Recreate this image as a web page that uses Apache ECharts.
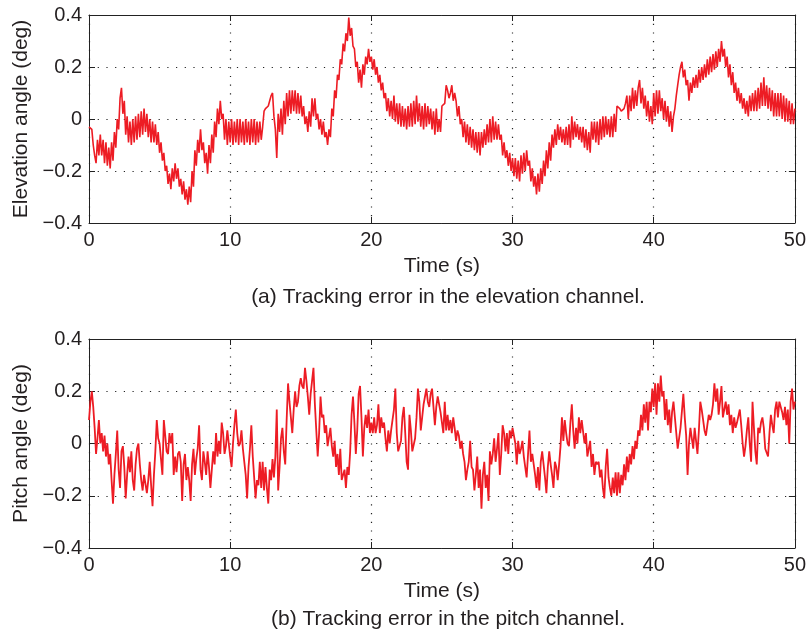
<!DOCTYPE html>
<html>
<head>
<meta charset="utf-8">
<script src="https://cdn.jsdelivr.net/npm/echarts@6/dist/echarts.min.js"></script>
<style>
html, body { margin: 0; padding: 0; background: #fff; }
#chart { width: 809px; height: 635px; }
</style>
</head>
<body>
<div id="chart"></div>
<script>
// sample spacing (s)
var STEP = 0.1;

// (a) elevation tracking error, in 0.01 deg, one row per second
var elevation = [
  -3, -3, -4, -10, -14, -17, -8, -14, -6, -14,
  -8, -17, -9, -18, -11, -19, -9, -16, -5, -11,
  0, -4, 8, 12, 2, 7, -6, 1, -9, -1,
  -10, 0, -9, 1, -8, 2, -7, 3, -6, 4,
  -5, 2, -7, 0, -9, -1, -9, -2, -10, -5,
  -13, -9, -16, -13, -20, -18, -25, -21, -27, -19,
  -24, -17, -23, -19, -26, -23, -29, -24, -31, -27,
  -33, -26, -32, -20, -26, -12, -18, -8, -13, -4,
  -12, -9, -17, -13, -21, -10, -17, -6, -13, -1,
  -7, 4, -2, 7, 0, 2, -8, 0, -10, -1,
  -9, 0, -10, -1, -9, 0, -10, 0, -9, -1,
  -10, 0, -9, -1, -10, 0, -9, 0, -10, -1,
  -9, -1, -8, -3, 3, 4, 4, 5, 7, 9,
  10, 1, -4, -15, 2, -5, 4, -6, 7, -2,
  10, 1, 11, 2, 11, 3, 11, 2, 10, 2,
  9, 1, 5, -2, 1, -5, 3, -3, 8, 1,
  8, 0, 2, -4, 0, -6, -1, -7, -5, -10,
  -4, -7, 4, 1, 11, 8, 17, 15, 23, 21,
  29, 26, 33, 30, 39, 32, 35, 28, 27, 20,
  22, 14, 19, 12, 21, 17, 24, 21, 27, 22,
  24, 19, 23, 17, 20, 14, 17, 11, 14, 8,
  10, 3, 8, 1, 7, 0, 9, -1, 6, -2,
  6, -3, 5, -3, 4, -4, 5, -3, 6, -3,
  7, -2, 9, -1, 6, -3, 5, -4, 6, -3,
  5, -2, 4, -4, 3, -6, 4, -5, 0, -5,
  5, 5, 6, 13, 11, 8, 10, 13, 7, 10,
  7, 1, 5, -2, 0, -7, -1, -9, -2, -10,
  -3, -11, -4, -12, -5, -13, -5, -14, -5, -11,
  -4, -10, -2, -9, 0, -9, 1, -8, -1, -8,
  -2, -8, -6, -14, -9, -15, -12, -18, -13, -20,
  -15, -22, -15, -23, -16, -24, -14, -21, -13, -20,
  -12, -18, -16, -24, -19, -26, -22, -29, -21, -28,
  -19, -25, -16, -22, -12, -19, -9, -16, -6, -11,
  -4, -10, -2, -8, -3, -9, -4, -10, -3, -10,
  -2, -11, 1, -8, -1, -7, -2, -8, -3, -9,
  -3, -11, -4, -12, -5, -13, -1, -8, -1, -9,
  -1, -10, 0, -8, 1, -7, 1, -6, 0, -7,
  1, -7, 2, -5, 5, 5, 4, 3, 3, 4,
  6, 9, 0, 9, 3, 12, 4, 11, 5, 12,
  15, 6, 12, 4, 9, 1, 7, -1, 5, -2,
  10, 1, 11, 2, 11, 3, 8, 0, 7, -1,
  5, -3, 3, -5, 1, 4, 9, 13, 17, 20,
  22, 16, 19, 13, 15, 7, 14, 10, 16, 12,
  17, 12, 19, 14, 20, 15, 21, 16, 23, 17,
  24, 18, 25, 19, 26, 20, 27, 22, 30, 24,
  27, 20, 24, 16, 21, 13, 18, 10, 14, 7,
  12, 6, 10, 4, 8, 2, 7, 1, 9, 3,
  10, 3, 11, 3, 12, 4, 14, 5, 16, 5,
  13, 4, 12, 3, 11, 1, 10, 1, 10, 1,
  10, 0, 9, -1, 8, -1, 7, -2, 6, -2,
  4
];

// (b) pitch tracking error, in 0.01 deg, one row per second
var pitch = [
  9, 16, 20, 14, 6, -4, 2, 9, 0, 4,
  -3, 3, -5, 0, -8, -4, -14, -23, -12, -4,
  5, -10, -17, -3, -1, -9, -21, -12, -5, -11,
  -3, -14, -18, -8, -2, 0, -8, -14, -18, -12,
  -12, -19, -14, -7, -16, -24, -12, -3, 9, 2,
  0, -6, -12, 9, 3, -3, -4, 4, 0, 4,
  -12, -5, -11, -4, -3, -7, -22, -8, -4, -14,
  -9, -14, -22, -8, -2, -12, -6, -2, 7, -10,
  -14, -3, -7, -12, -3, -9, -17, -10, -3, -8,
  4, -5, 1, -4, 8, 4, -4, -1, 5, 0,
  -5, -9, 0, 7, 13, 4, -1, 0, 5, -2,
  -7, -12, -21, -9, -2, 7, -5, -13, -21, -14,
  -16, -7, -17, -7, -18, -9, -17, -23, -10, -14,
  -6, -13, -5, 13, -18, -9, 2, 6, -3, -8,
  9, 23, 16, 10, 4, 13, 20, 14, 16, 22,
  25, 22, 21, 29, 24, 18, 11, 19, 24, 29,
  15, 5, -5, 4, 18, 10, 11, 4, 7, -1,
  -1, 6, -1, -5, 1, -9, -4, -12, -2, -14,
  -14, -10, -17, -9, -12, -3, 11, 18, 8, -4,
  5, 19, 22, 10, -5, 6, 11, 6, 13, 4,
  8, 4, 10, 4, 7, 15, 4, 10, 6, 8,
  2, -3, 5, 0, 5, 9, 13, 21, 4, -3,
  -3, 1, 10, 14, 4, -7, -10, 11, 5, -3,
  -3, 2, 10, 21, 16, 5, 10, 15, 18, 21,
  16, 14, 19, 21, 14, 7, 14, 18, 15, 12,
  8, 4, 16, 5, 11, 5, 9, 4, 10, 6,
  1, 5, 3, -2, 1, -4, -7, -14, -10, -7,
  1, -9, -10, -18, -12, -5, -17, -10, -25, -12,
  -7, -17, -12, -22, -3, -8, -4, 2, -7, -2,
  4, -12, -4, 7, 4, -3, 4, -4, 5, 2,
  6, 3, 0, -8, 1, -4, -2, 1, -5, -9,
  -13, -4, 5, -7, -4, -8, -12, -17, -9, -18,
  -7, -3, -8, -13, -19, -9, -3, -8, -12, -17,
  -7, -9, -14, -8, -1, 10, 1, 9, 4, 0,
  -1, 8, 15, 5, -2, 6, 0, 10, 4, 9,
  9, 0, 4, -5, -2, 1, -9, -4, -12, -7,
  -8, -7, -13, -10, -17, -21, -9, -2, -13, -17,
  -20, -13, -19, -11, -20, -11, -19, -12, -16, -8,
  -14, -5, -11, -4, -8, -1, -6, 1, -2, 5,
  3, 11, 5, 15, 8, 16, 5, 16, 12, 21,
  14, 23, 11, 23, 16, 26, 18, 20, 9, 17,
  7, 13, 4, 12, 16, 10, 4, -2, 2, 6,
  6, 19, 10, 3, -12, 0, 6, 2, -2, 6,
  1, -4, 5, 16, 13, 9, 5, 3, 7, 11,
  9, 11, 15, 23, 16, 21, 11, 16, 22, 10,
  10, 16, 11, 15, 7, 11, 4, 10, 6, 8,
  8, 13, 7, 0, -5, -1, 5, 10, 0, -7,
  16, 6, -3, -8, 6, 4, 8, 10, 6, -2,
  -2, -5, 4, 11, 7, 4, 13, 16, 10, 16,
  16, 12, 9, 14, 7, 13, 0, 16, 21, 13,
  16
];

var xTicks = [0, 10, 20, 30, 40, 50];
var yTicks = [-0.4, -0.2, 0, 0.2, 0.4];
var yTickLabels = ['\u22120.4', '\u22120.2', '0', '0.2', '0.4'];
var captions = ['(a) Tracking error in the elevation channel.', '(b) Tracking error in the pitch channel.'];
var yNames = ['Elevation angle (deg)', 'Pitch angle (deg)'];

var FONT = 'Liberation Sans, Arial, Helvetica, sans-serif';
var INK = '#231f20';
var RED = '#ed1c24';

function toPoints(arr) {
  return arr.map(function (v, i) { return [+(i * STEP).toFixed(1), v / 100]; });
}

var chart = echarts.init(document.getElementById('chart'), null, { renderer: 'canvas' });

var grids = [
  { left: 89, top: 15, width: 706, height: 208 },
  { left: 89, top: 339, width: 707, height: 209 }
];

var frameLine = { onZero: false, lineStyle: { color: '#222', width: 1 } };
var frameTick = { show: true, inside: true, length: 6, lineStyle: { color: '#222' } };
var dotted = { show: true, lineStyle: { color: '#222', width: 1.2, type: [1.2, 7.5] } };

var xAxes = [], yAxes = [];
grids.forEach(function (g, k) {
  // bottom axis: labels, name, grid
  xAxes.push({
    type: 'value', gridIndex: k, position: 'bottom',
    min: xTicks[0], max: xTicks[xTicks.length - 1], interval: 10,
    name: 'Time (s)', nameLocation: 'middle', nameGap: 33,
    nameTextStyle: { fontFamily: FONT, fontSize: 21, color: INK },
    axisLine: frameLine, axisTick: frameTick,
    axisLabel: { margin: 7, fontFamily: FONT, fontSize: 20, color: INK },
    splitLine: dotted
  });
  // top frame
  xAxes.push({
    type: 'value', gridIndex: k, position: 'top', min: 0, max: 50, interval: 10,
    axisLine: frameLine, axisTick: frameTick,
    axisLabel: { show: false }, splitLine: { show: false }
  });
  yAxes.push({
    type: 'value', gridIndex: k, position: 'left',
    min: yTicks[0], max: yTicks[yTicks.length - 1], interval: 0.2,
    name: yNames[k], nameLocation: 'middle', nameGap: 57,
    nameTextStyle: { fontFamily: FONT, fontSize: 21, color: INK },
    axisLine: Object.assign({ show: true }, frameLine), axisTick: frameTick,
    axisLabel: {
      margin: 7, fontFamily: FONT, fontSize: 20, color: INK,
      formatter: function (v) { return yTickLabels[Math.round((v - yTicks[0]) / 0.2)]; }
    },
    splitLine: dotted
  });
  // right frame
  yAxes.push({
    type: 'value', gridIndex: k, position: 'right', min: -0.4, max: 0.4, interval: 0.2,
    axisLine: Object.assign({ show: true }, frameLine), axisTick: frameTick,
    axisLabel: { show: false }, splitLine: { show: false }
  });
});

var option = {
  animation: false,
  backgroundColor: '#fff',
  grid: grids,
  xAxis: xAxes,
  yAxis: yAxes,
  series: [
    {
      name: 'elevation', type: 'line', xAxisIndex: 0, yAxisIndex: 0,
      data: toPoints(elevation), showSymbol: false, symbol: 'none', sampling: null,
      lineStyle: { color: RED, width: 1.6 }
    },
    {
      name: 'pitch', type: 'line', xAxisIndex: 2, yAxisIndex: 2,
      data: toPoints(pitch), showSymbol: false, symbol: 'none', sampling: null,
      lineStyle: { color: RED, width: 1.8 }
    }
  ],
  graphic: [
    {
      type: 'text', x: 448, y: 297,
      style: { text: captions[0], fill: INK, font: '21px ' + FONT, align: 'center', verticalAlign: 'middle', textAlign: 'center', textVerticalAlign: 'middle' }
    },
    {
      type: 'text', x: 448, y: 619,
      style: { text: captions[1], fill: INK, font: '21px ' + FONT, align: 'center', verticalAlign: 'middle', textAlign: 'center', textVerticalAlign: 'middle' }
    }
  ]
};

chart.setOption(option);
</script>
</body>
</html>
